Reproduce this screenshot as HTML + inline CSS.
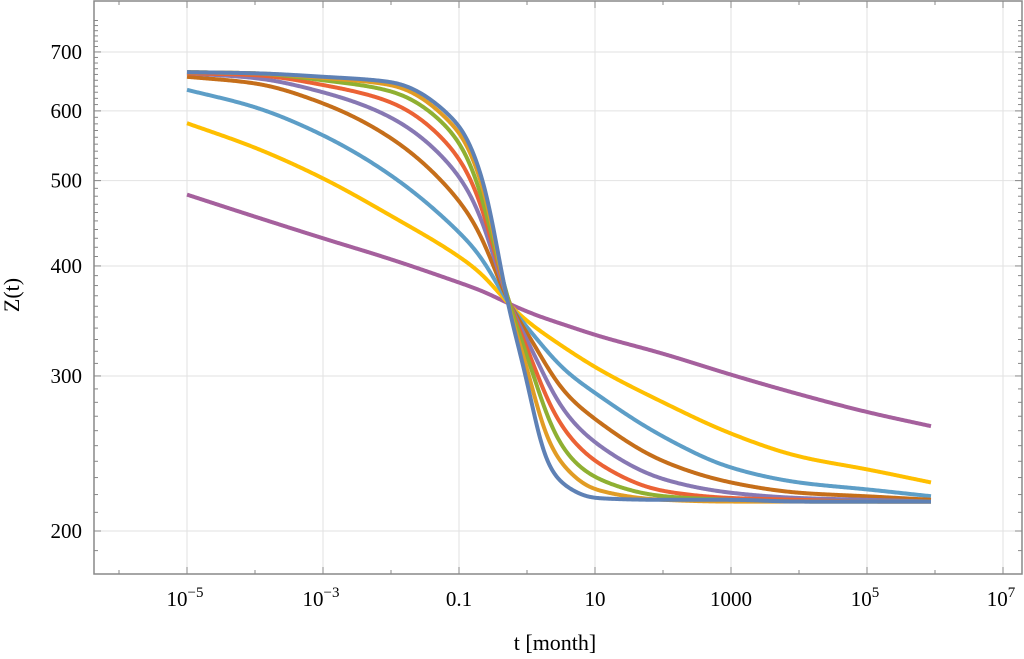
<!DOCTYPE html>
<html><head><meta charset="utf-8"><style>
body{margin:0;background:#fff;}
svg{display:block;font-family:"Liberation Serif",serif;}
</style></head><body>
<svg id="chart" width="1024" height="659" viewBox="0 0 1024 659">
<g id="grid"></g>
<g id="series"></g>
<g id="axes"></g>
<text x="555" y="650" font-size="22" text-anchor="middle">t [month]</text>
<text transform="translate(19,295) rotate(-90)" font-size="22" text-anchor="middle">Z(t)</text>
</svg>
<script>
const logT = [-5,-4,-3,-2,-1,-0.63,-0.29,0,0.25,0.5,1,2,3,4,5,5.95];
const zBlue = [664,662,656,647,578,497,363,297,243,227,218,217,217,216,216,216];
const zOrange = [664,662,654,642,568,488,363,307,260,239,223,217,216,216,216,216];
const zGreen = [664,662,650,632,556,475,363,319,274,249,230,219,217,216,216,216];
const zRed = [662,659,642,614,532,463,363,325,286,263,240,222,218,217,216,216];
const zPurple = [662,654,630,590,507,448,363,331,300,276,252,229,221,218,217,216];
const zBrown = [656,645,612,559,475,428,363,337,311,290,268,240,227,221,219,217];
const zLightBlue = [634,606,563,507,437,406,363,341,323,307,287,256,236,227,223,219];
const zYellow = [581,545,503,456,410,390,363,346,335,325,307,280,258,243,235,227];
const zMagenta = [482,455,430,407,383,374,363,355,349,344,334,318,301,286,273,263];
const seriesColors = ["#A5609D","#FFBF00","#5D9EC7","#C56E1A","#8778B3","#EB6235","#8FB032","#E19C24","#5E81B5"];
const seriesNames = ["magenta","yellow","light-blue","brown","purple","red","green","orange","blue"];
const seriesData = [zMagenta,zYellow,zLightBlue,zBrown,zPurple,zRed,zGreen,zOrange,zBlue];
const xTickExps = [-5,-3,-1,1,3,5,7];
const xTickLabels = ["10","10","0.1","10","1000","10","10"];
const xTickSups = ["−5","−3","","","","5","7"];
const yTicks = [200,300,400,500,600,700];

const NS="http://www.w3.org/2000/svg";
const L=94,R=1022,T=1,B=574;
function xs(d){return 187+68*(d+5);}
function ys(z){return 531-382.4*Math.log(z/200);}
function el(tag,attrs,parent){const e=document.createElementNS(NS,tag);for(const k in attrs)e.setAttribute(k,attrs[k]);parent.appendChild(e);return e;}
const grid=document.getElementById('grid'),axes=document.getElementById('axes'),ser=document.getElementById('series');

for(const d of xTickExps){const x=xs(d);if(x>L&&x<R){const g=el('line',{x1:x,x2:x,y1:T,y2:B,stroke:'#e2e2e2','stroke-width':1},grid);

}}
for(const v of yTicks){const y=ys(v);const g=el('line',{x1:L,x2:R,y1:y,y2:y,stroke:'#e2e2e2','stroke-width':1},grid);

}

function monoEval(px,py){const n=px.length,dx=[],m=[],t=[];
for(let i=0;i<n-1;i++){dx.push(px[i+1]-px[i]);m.push((py[i+1]-py[i])/dx[i]);}
t[0]=m[0];t[n-1]=m[n-2];
for(let i=1;i<n-1;i++){if(m[i-1]*m[i]<=0)t[i]=0;else{const w1=2*dx[i]+dx[i-1],w2=dx[i]+2*dx[i-1];t[i]=(w1+w2)/(w1/m[i-1]+w2/m[i]);}}
const out=[];
for(let x=px[0];x<=px[n-1]+0.001;x+=1){let i=0;while(i<n-2&&x>px[i+1])i++;
const h=dx[i],s=(x-px[i])/h,h00=2*s*s*s-3*s*s+1,h10=s*s*s-2*s*s+s,h01=-2*s*s*s+3*s*s,h11=s*s*s-s*s;
out.push([x,h00*py[i]+h10*h*t[i]+h01*py[i+1]+h11*h*t[i+1]]);}
return out;}
function smooth(pts,sig){const n=pts.length,res=[];
for(let i=0;i<n;i++){const w=Math.min(Math.round(sig*2.5),i,n-1-i);let sw=0,sy=0;
for(let j=-w;j<=w;j++){const g=Math.exp(-j*j/(2*sig*sig));sw+=g;sy+=g*pts[i+j][1];}
res.push([pts[i][0],sy/sw]);}
return res;}
seriesData.forEach((arr,k)=>{const sig=(k>=7)?7:11;const pts=smooth(monoEval(logT.map(xs),arr.map(ys)),sig);
const d='M'+pts.map(p=>p[0].toFixed(1)+','+p[1].toFixed(2)).join(' L');
const p=el('path',{d:d,fill:'none',stroke:seriesColors[k],'stroke-width':4,'stroke-linejoin':'round'},ser);

});

const fr=el('rect',{x:L,y:T,width:R-L,height:B-T,fill:'none',stroke:'#888','stroke-width':1.5},axes);


for(let d=-6;d<=7;d++){const x=xs(d);if(x<=L||x>=R)continue;const len=(d%2===0)?4:7;
el('line',{x1:x,x2:x,y1:B,y2:B-len,stroke:'#888'},axes);el('line',{x1:x,x2:x,y1:T,y2:T+len,stroke:'#888'},axes);}
xTickExps.forEach((d,i)=>{const x=xs(d);const t=el('text',{x:x,y:606,'font-size':21,'text-anchor':'middle'},axes);


t.textContent=xTickLabels[i];
if(xTickSups[i]){const s=el('tspan',{dy:-9,'font-size':15},t);s.textContent=xTickSups[i];t.setAttribute('x',x-2);}});
for(let v=190;v<=760;v+=10){const y=ys(v);if(y<=T||y>=B)continue;const len=(v%100===0)?7:4;
el('line',{x1:L,x2:L+len,y1:y,y2:y,stroke:'#888'},axes);el('line',{x1:R,x2:R-len,y1:y,y2:y,stroke:'#888'},axes);}
yTicks.forEach(v=>{const t=el('text',{x:82,y:ys(v)+7,'font-size':21,'text-anchor':'end'},axes);


t.textContent=v;});
</script>
</body></html>
